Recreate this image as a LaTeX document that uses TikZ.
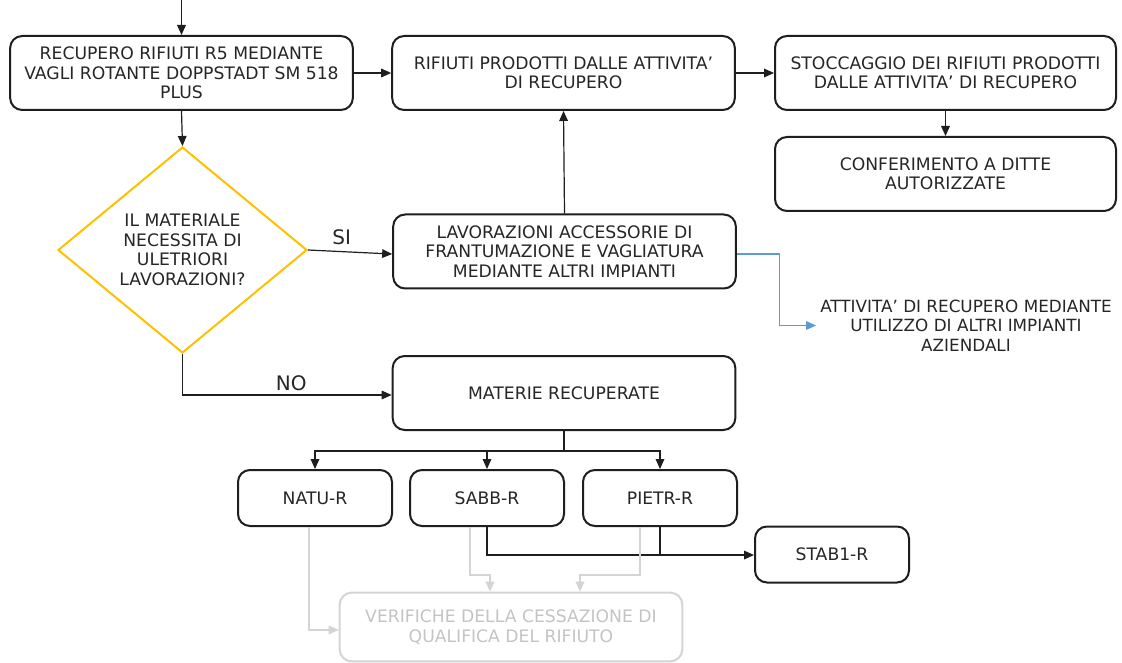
\documentclass[tikz,border=0pt]{standalone}
\usepackage{fontspec}
\setmainfont{DejaVu Sans}
\usetikzlibrary{arrows.meta,shapes.geometric}
\definecolor{boxline}{HTML}{1E1E1E}
\definecolor{inktext}{HTML}{262626}
\definecolor{decision}{HTML}{FFC000}
\definecolor{flowblue}{HTML}{5B9BD5}
\definecolor{faint}{HTML}{D4D4D4}
\definecolor{fainttext}{HTML}{C4C4C4}

\begin{document}
\begin{tikzpicture}[x=0.75pt,y=-0.75pt,
  every node/.style={font=\fontsize{12.9}{14.6}\selectfont, align=center, inner sep=0pt, text=inktext},
  stepbox/.style={draw=boxline, line width=1.5pt, rounded corners=9pt,
                  minimum width=257pt, minimum height=55.5pt},
  smallbox/.style={draw=boxline, line width=1.5pt, rounded corners=9pt,
                  minimum width=115.5pt, minimum height=42pt},
  fadedbox/.style={draw=faint, line width=1.5pt, rounded corners=9pt, text=fainttext,
                  minimum width=257pt, minimum height=51.5pt},
  choice/.style={diamond, draw=decision, line width=1.5pt,
                  minimum width=186.75pt, minimum height=154.5pt},
  flow/.style={draw=boxline, line width=0.9pt, -{Triangle[length=7.5pt,width=6.5pt]}},
  link/.style={draw=boxline, line width=0.9pt},
  blueflow/.style={draw=flowblue, line width=0.9pt, -{Triangle[length=7.5pt,width=6.5pt]}},
  fadedflow/.style={draw=faint, line width=1.1pt, -{Triangle[length=7.5pt,width=6.5pt]}},
  edgelabel/.style={font=\fontsize{15}{18}\selectfont}
]
\useasboundingbox[fill=white] (0,0) rectangle (1122,663);

% main column of boxes
\node[stepbox] (recupero) at (181.5,73) {RECUPERO RIFIUTI R5 MEDIANTE\\VAGLI ROTANTE DOPPSTADT SM 518\\PLUS};
\node[stepbox] (prodotti) at (563.5,73) {RIFIUTI PRODOTTI DALLE ATTIVITA’\\DI RECUPERO};
\node[stepbox, minimum width=255.75pt] (stoccaggio) at (945.5,73) {STOCCAGGIO DEI RIFIUTI PRODOTTI\\DALLE ATTIVITA’ DI RECUPERO};
\node[stepbox, minimum width=255.75pt] (conferimento) at (945.5,174) {CONFERIMENTO A DITTE\\AUTORIZZATE};
\node[choice] (domanda) at (182.5,250) {IL MATERIALE\\NECESSITA DI\\ULETRIORI\\LAVORAZIONI?};
\node[stepbox] (lavorazioni) at (564.5,251.5) {LAVORAZIONI ACCESSORIE DI\\FRANTUMAZIONE E VAGLIATURA\\MEDIANTE ALTRI IMPIANTI};
\node[font=\fontsize{12.6}{14.6}\selectfont] (altri) at (966,325.5) {ATTIVITA’ DI RECUPERO MEDIANTE\\UTILIZZO DI ALTRI IMPIANTI\\AZIENDALI};
\node[stepbox] (materie) at (564,393) {MATERIE RECUPERATE};

% recovered materials
\node[smallbox] (natu) at (315,498) {NATU-R};
\node[smallbox] (sabb) at (487,498) {SABB-R};
\node[smallbox] (pietr) at (660,498) {PIETR-R};
\node[smallbox] (stab) at (832,554.5) {STAB1-R};
\node[fadedbox] (verifiche) at (511,627) {VERIFICHE DELLA CESSAZIONE DI\\QUALIFICA DEL RIFIUTO};

% connectors
\coordinate (ingresso) at (181.5,0);
\draw[flow] (ingresso) -- (recupero.north);
\draw[flow] (recupero.south) -- (domanda.north);
\draw[flow] (recupero.east) -- (prodotti.west);
\draw[flow] (prodotti.east) -- (stoccaggio.west);
\draw[flow] (stoccaggio.south) -- (conferimento.north);
\draw[flow] (lavorazioni.north) -- (prodotti.south);
\draw[flow] (domanda.east) -- node[edgelabel, above=5pt, pos=0.4] (si) {SI} ([yshift=-1.9pt]lavorazioni.west);
\draw[flow] (domanda.south) |- node[edgelabel, above=3pt, pos=0.76] (no) {NO} ([yshift=-1.5pt]materie.west);
\draw[blueflow] ([yshift=-1.9pt]lavorazioni.east) -- ++(43,0) |- ([xshift=-3pt]altri.west);

% split below the recovered materials
\coordinate (nodo) at (564,451);
\draw[link] (materie.south) -- (nodo);
\draw[flow] (nodo) -| (natu.north);
\draw[flow] (nodo) -| (sabb.north);
\draw[flow] (nodo) -| (pietr.north);
\draw[flow] (sabb.south) |- ([yshift=-0.4pt]stab.west);
\draw[link] (pietr.south) -- (pietr.south |- stab.west);

% faded checks
\coordinate (gomitoA) at (490,575);
\coordinate (gomitoB) at (580,575);
\draw[fadedflow] ([xshift=-4.5pt]natu.south) |- ([yshift=-2.2pt]verifiche.west);
\draw[fadedflow] ([xshift=-12.75pt]sabb.south) |- (gomitoA) -- (gomitoA |- verifiche.north);
\draw[fadedflow] ([xshift=-15pt]pietr.south) |- (gomitoB) -- (gomitoB |- verifiche.north);
\end{tikzpicture}
\end{document}
